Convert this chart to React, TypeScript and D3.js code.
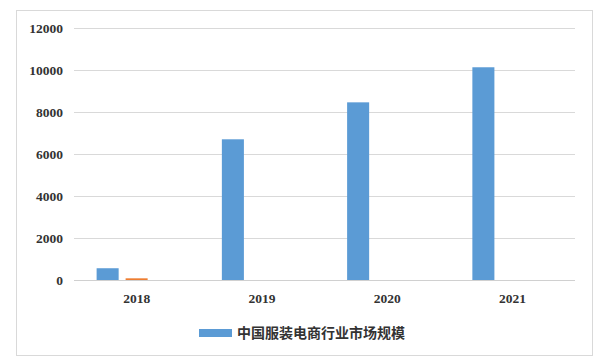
import React, { useEffect, useRef } from 'react'
import * as d3 from 'd3'

const years = ['2018', '2019', '2020', '2021']
const seriesNames = ['中国服装电商行业市场规模', '系列2', '系列3']
const marketSize = [560, 6700, 8460, 10130]
const series2 = [80, 0, 0, 0]
const series3 = [0, 0, 0, 0]
const yTicks = [0, 2000, 4000, 6000, 8000, 10000, 12000]
const colors = ['#5b9bd5', '#ed7d31', '#a5a5a5']

export default function App() {
    const svgRef = useRef<SVGSVGElement>(null)

    let width = 614
    let height = 362

    useEffect(() => {
        let svg = d3.select(svgRef.current).attr('width', width).attr('height', height)
        svg.selectAll('*').remove()

        // outer frame
        svg.append('rect')
            .attr('x', 16.5)
            .attr('y', 10.5)
            .attr('width', 576)
            .attr('height', 345)
            .attr('fill', '#fff')
            .attr('stroke', '#d9d9d9')

        let x0 = d3.scaleBand().domain(years).range([74, 575])
        let x1 = d3
            .scaleBand()
            .domain(seriesNames)
            .range([0, x0.bandwidth()])
            .paddingInner(0.24)
            .paddingOuter(0.78)
        let y = d3.scaleLinear().domain([0, 12000]).range([280, 28])

        // grid
        svg.append('g')
            .selectAll('line')
            .data(yTicks.filter((d) => d > 0))
            .enter()
            .append('line')
            .attr('x1', 74)
            .attr('x2', 575)
            .attr('y1', (d) => y(d) + 0.5)
            .attr('y2', (d) => y(d) + 0.5)
            .attr('stroke', '#d9d9d9')
            .attr('stroke-width', 1)

        let font = '"Liberation Serif", serif'

        svg.append('g')
            .selectAll('text')
            .data(yTicks)
            .enter()
            .append('text')
            .attr('x', 63)
            .attr('y', (d) => y(d))
            .attr('dy', '0.35em')
            .attr('text-anchor', 'end')
            .attr('font-family', font)
            .attr('font-weight', 'bold')
            .attr('font-size', 13.5)
            .attr('fill', '#333')
            .text((d) => d)

        let data = [marketSize, series2, series3]

        let groups = svg
            .append('g')
            .selectAll('g')
            .data(years)
            .enter()
            .append('g')
            .attr('transform', (d) => `translate(${x0(d)},0)`)

        groups
            .selectAll('rect')
            .data((d, i) => seriesNames.map((s, j) => ({ s, v: data[j][i], c: colors[j] })))
            .enter()
            .append('rect')
            .attr('x', (d) => x1(d.s)!)
            .attr('width', x1.bandwidth())
            .attr('y', (d) => y(d.v))
            .attr('height', (d) => 280 - y(d.v))
            .attr('fill', (d) => d.c)

        // baseline
        svg.append('line')
            .attr('x1', 74)
            .attr('x2', 575)
            .attr('y1', 280.5)
            .attr('y2', 280.5)
            .attr('stroke', '#d0d0d0')

        svg.append('g')
            .selectAll('text')
            .data(years)
            .enter()
            .append('text')
            .attr('x', (d) => x0(d)! + x0.bandwidth() / 2)
            .attr('y', 298)
            .attr('dy', '0.35em')
            .attr('text-anchor', 'middle')
            .attr('font-family', font)
            .attr('font-weight', 'bold')
            .attr('font-size', 13.5)
            .attr('fill', '#333')
            .text((d) => d)

        // legend
        svg.append('rect')
            .attr('x', 199)
            .attr('y', 329)
            .attr('width', 33)
            .attr('height', 8)
            .attr('fill', colors[0])
        svg.append('text')
            .attr('x', 237)
            .attr('y', 333)
            .attr('dy', '0.35em')
            .attr('font-family', '"Noto Sans CJK SC", sans-serif')
            .attr('font-weight', 'bold')
            .attr('font-size', 14)
            .attr('fill', '#333')
            .text(seriesNames[0])
    }, [])

    return (
        <div>
            <svg ref={svgRef} style={{ position: 'absolute', left: 0, top: 0 }} />
        </div>
    )
}
